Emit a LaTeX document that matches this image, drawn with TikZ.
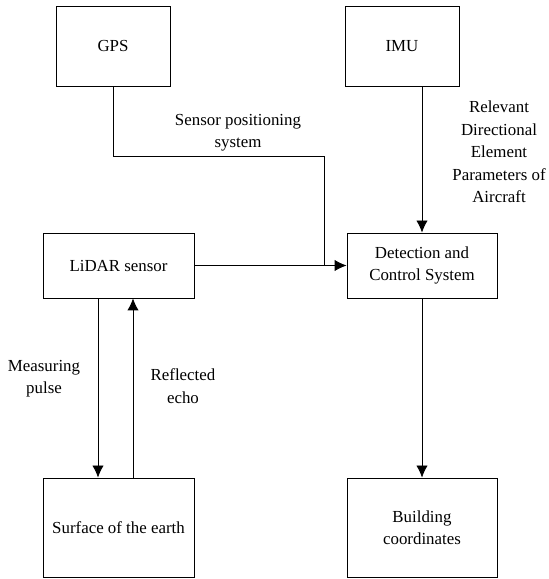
\documentclass[tikz,border=0pt]{standalone}
\usepackage{fontspec}
\setmainfont{Liberation Serif}
\usepackage{tikz}
\usetikzlibrary{arrows.meta,positioning}

\tikzset{
	block/.style={draw, line width=0.7pt, align=center, inner sep=0pt},
	link/.style={line width=0.7pt},
	arrow/.style={line width=0.7pt, -{Latex[length=0.36cm,width=0.34cm]}},
	note/.style={align=center}
}

\begin{document}
\begin{tikzpicture}[font=\fontsize{14.4}{19.2}\selectfont]
	\useasboundingbox (0,0) rectangle (16.44,17.37);

	% Boxes of the system
	\node [block, minimum width=3.42cm, minimum height=2.4cm] (gps) at (3.39,15.99) {GPS};
	\node [block, minimum width=3.42cm, minimum height=2.4cm] (imu) at (12.06,15.99) {IMU};
	\node [block, minimum width=4.53cm, minimum height=1.95cm] (lidar) at (3.555,9.405) {LiDAR sensor};
	\node [block, minimum width=4.5cm, minimum height=1.95cm] (detect) at (12.66,9.405) {Detection and\\Control System};
	\node [block, minimum width=4.53cm, minimum height=2.97cm] (earth) at (3.555,1.545) {Surface of the earth};
	\node [block, minimum width=4.5cm, minimum height=2.97cm] (coords) at (12.66,1.545) {Building\\coordinates};

	% Connectors
	\coordinate (bend) at (9.72,12.69);
	\coordinate (join) at (lidar.east -| bend);
	\draw [link] (gps.south) |- (bend) -- (join);
	\draw [arrow] (lidar.east) -- (detect.west);
	\draw [arrow] (imu.south -| detect.north) -- (detect.north);
	\draw [arrow] (detect.south) -- (coords.north);
	\draw [arrow] ([xshift=-0.615cm]lidar.south) -- ([xshift=-0.615cm]earth.north);
	\draw [arrow] ([xshift=0.435cm]earth.north) -- ([xshift=0.435cm]lidar.south);

	% Labels on the connectors
	\node [note] (poslabel) at (7.14,13.395) {Sensor positioning\\system};
	\node [note] (imulabel) at (14.97,12.81) {Relevant\\Directional\\Element\\Parameters of\\Aircraft};
	\node [note] (pulselabel) at (1.32,6.015) {Measuring\\pulse};
	\node [note] (echolabel) at (5.49,5.79) {Reflected\\echo};
\end{tikzpicture}
\end{document}
